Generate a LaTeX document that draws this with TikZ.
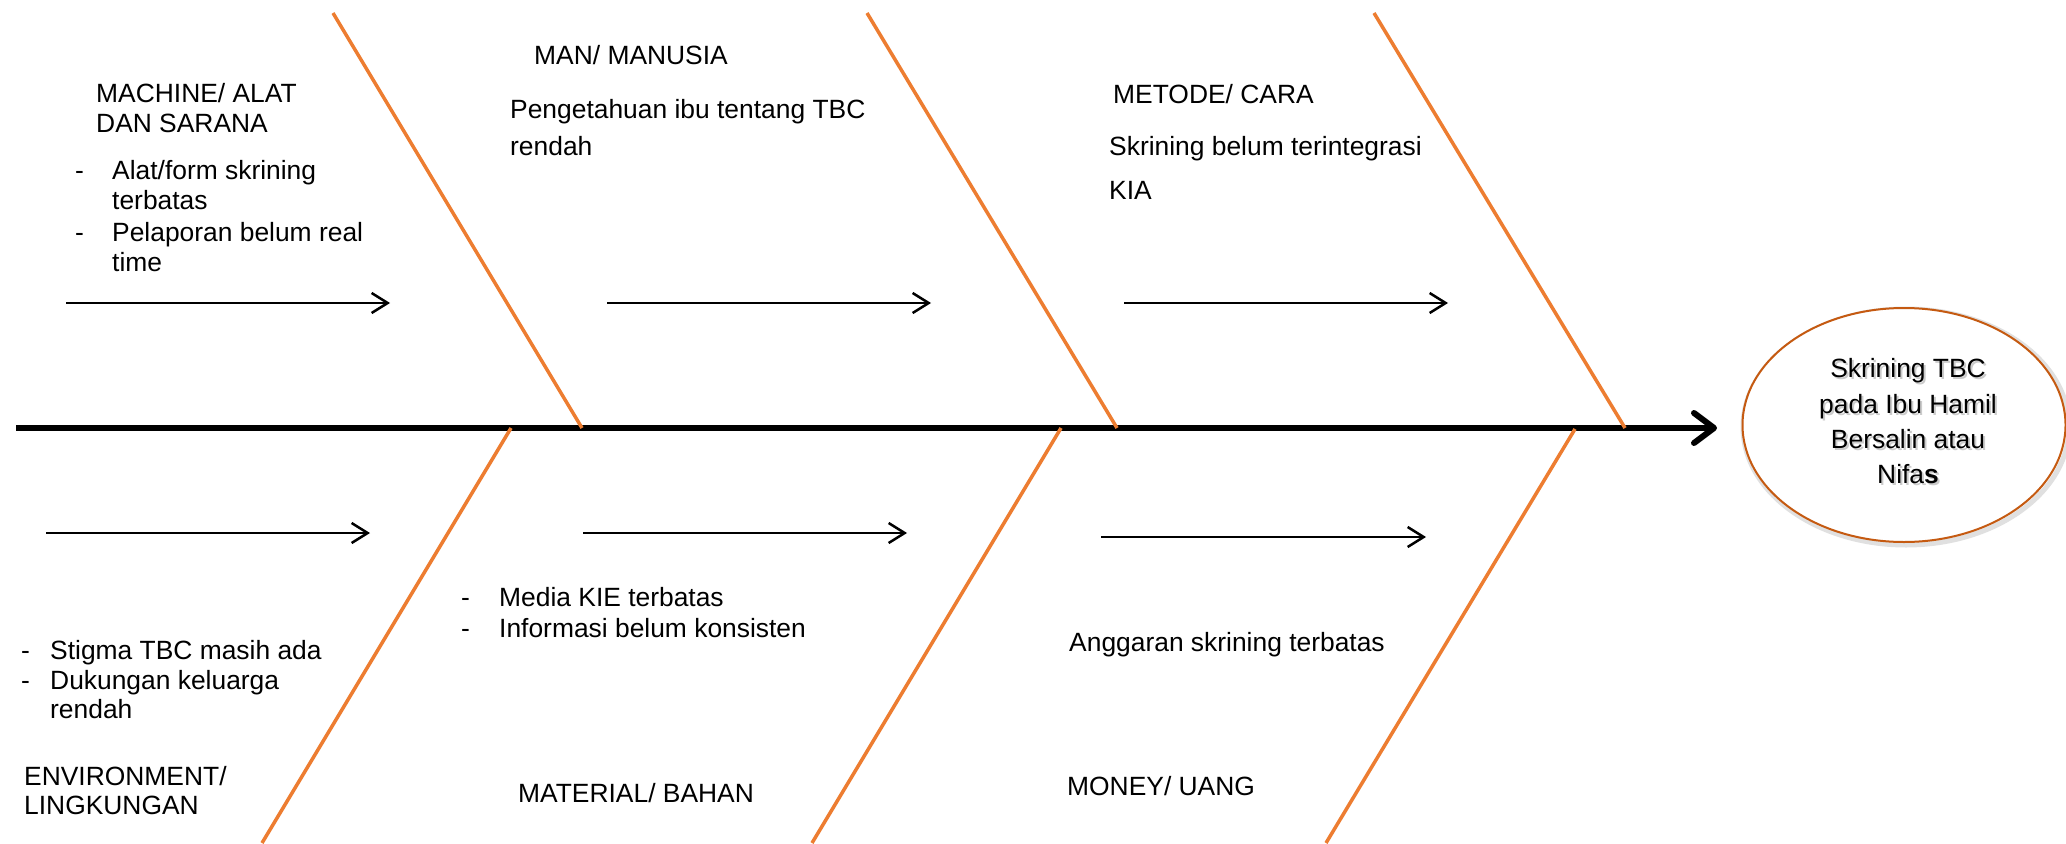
\documentclass[tikz,border=0pt]{standalone}
\usepackage{fontspec}
\setmainfont{Liberation Sans}
\usetikzlibrary{arrows.meta,shapes.geometric}
\definecolor{bonec}{HTML}{ED7D31}
\definecolor{ellc}{HTML}{C55A11}
\begin{document}
\begin{tikzpicture}[x=1pt,y=-1pt,
  lbl/.style={anchor=base west,inner sep=0pt,font=\fontsize{26.4}{30}\selectfont},
  ctr/.style={anchor=base,inner sep=0pt,font=\fontsize{26.4}{30}\selectfont},
  shd/.style={anchor=base,inner sep=0pt,font=\fontsize{26.4}{30}\selectfont,text=black!45,opacity=0.45},
  bone/.style={draw=bonec,line width=3.5pt},
  spine/.style={draw=black,line width=6pt,-{Straight Barb[length=20pt,width=30pt,line width=6pt,round]}},
  sub/.style={draw=black,line width=2.5pt,-{Straight Barb[length=16pt,width=20pt,line width=2.5pt]}}]
\useasboundingbox (0,0) rectangle (2066,843);
\fill[white] (0,0) rectangle (2066,843);

% goal ellipse
\node[ellipse,draw=black!12,line width=5pt,minimum width=326pt,minimum height=236pt,inner sep=0pt] (gshadow) at (1906,427) {};
\node[ellipse,draw=ellc,fill=white,line width=2pt,minimum width=323pt,minimum height=234pt,inner sep=0pt] (goal) at (1904,425) {};
\foreach \t/\y in {Skrining TBC/377,pada Ibu Hamil/413,Bersalin atau/448}{
  \node[shd] at (1910,\y+2.5) {\t};
}
\node[shd] at (1910,485.5) {Nifa\textbf{s}};
\node[ctr] (g1) at (1908,377) {Skrining TBC};
\node[ctr] (g2) at (1908,413) {pada Ibu Hamil};
\node[ctr] (g3) at (1908,448) {Bersalin atau};
\node[ctr] (g4) at (1908,483) {Nifa\textbf{s}};

% spine
\coordinate (s0) at (16,428);
\coordinate (tip) at (1717,428);
\draw[spine] (s0) -- (tip);

% bones
\coordinate (u1a) at (333,13);  \coordinate (u1b) at (582,428);
\coordinate (u2a) at (867,13);  \coordinate (u2b) at (1117,428);
\coordinate (u3a) at (1374,13); \coordinate (u3b) at (1625,428);
\coordinate (l1a) at (511,428); \coordinate (l1b) at (262,843);
\coordinate (l2a) at (1061,428);\coordinate (l2b) at (812,843);
\coordinate (l3a) at (1575,429);\coordinate (l3b) at (1326,843);
\draw[bone] (u1a) -- (u1b);
\draw[bone] (u2a) -- (u2b);
\draw[bone] (u3a) -- (u3b);
\draw[bone] (l1a) -- (l1b);
\draw[bone] (l2a) -- (l2b);
\draw[bone] (l3a) -- (l3b);

% sub arrows
\coordinate (a1s) at (66,303);  \coordinate (a1e) at (390,303);
\coordinate (a2s) at (607,303); \coordinate (a2e) at (931,303);
\coordinate (a3s) at (1124,303);\coordinate (a3e) at (1448,303);
\coordinate (b1s) at (46,533);  \coordinate (b1e) at (370,533);
\coordinate (b2s) at (583,533); \coordinate (b2e) at (907,533);
\coordinate (b3s) at (1101,537);\coordinate (b3e) at (1426,537);
\draw[sub] (a1s) -- (a1e);
\draw[sub] (a2s) -- (a2e);
\draw[sub] (a3s) -- (a3e);
\draw[sub] (b1s) -- (b1e);
\draw[sub] (b2s) -- (b2e);
\draw[sub] (b3s) -- (b3e);

% MACHINE
\node[lbl] (m1) at (96,102.5) {MACHINE/ ALAT};
\node[lbl] (m2) at (96,132.5) {DAN SARANA};
\node[lbl] (md1) at (75,179) {-};
\node[lbl] (m3) at (112,179) {Alat/form skrining};
\node[lbl] (m4) at (112,209) {terbatas};
\node[lbl] (md2) at (75,241) {-};
\node[lbl] (m5) at (112,241) {Pelaporan belum real};
\node[lbl] (m6) at (112,271) {time};

% MAN
\node[lbl] (h1) at (534,64) {MAN/ MANUSIA};
\node[lbl] (h2) at (510,118) {Pengetahuan ibu tentang TBC};
\node[lbl] (h3) at (510,155) {rendah};

% METODE
\node[lbl] (t1) at (1113,103) {METODE/ CARA};
\node[lbl] (t2) at (1109,155) {Skrining belum terintegrasi};
\node[lbl] (t3) at (1109,199) {KIA};

% ENVIRONMENT
\node[lbl] (ed1) at (21,659) {-};
\node[lbl] (e1) at (50,659) {Stigma TBC masih ada};
\node[lbl] (ed2) at (21,689) {-};
\node[lbl] (e2) at (50,689) {Dukungan keluarga};
\node[lbl] (e3) at (50,718) {rendah};
\node[lbl] (e4) at (24,785) {ENVIRONMENT/};
\node[lbl] (e5) at (24,814) {LINGKUNGAN};

% MATERIAL
\node[lbl] (xd1) at (461,606) {-};
\node[lbl] (x1) at (499,606) {Media KIE terbatas};
\node[lbl] (xd2) at (461,637) {-};
\node[lbl] (x2) at (499,637) {Informasi belum konsisten};
\node[lbl] (x3) at (518,802) {MATERIAL/ BAHAN};

% MONEY
\node[lbl] (y1) at (1069,651) {Anggaran skrining terbatas};
\node[lbl] (y2) at (1067,795) {MONEY/ UANG};
\end{tikzpicture}
\end{document}
